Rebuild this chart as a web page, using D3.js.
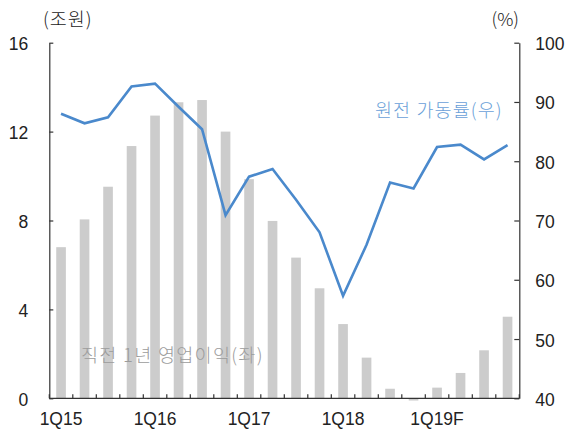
<!DOCTYPE html>
<html>
<head>
<meta charset="utf-8">
<script src="https://cdn.jsdelivr.net/npm/d3@7"></script>
<style>
  html, body { margin: 0; padding: 0; background: #fff; }
  svg { display: block; }
  text { font-family: "Liberation Sans", Arial, "Noto Sans CJK KR", sans-serif; }
  .kr { font-family: "Noto Sans CJK KR", "Liberation Sans", sans-serif; font-weight: 300; }
</style>
</head>
<body>
<svg id="chart" width="569" height="433"></svg>
<script>
const categories = ["1Q15","2Q15","3Q15","4Q15","1Q16","2Q16","3Q16","4Q16","1Q17","2Q17","3Q17","4Q17","1Q18","2Q18","3Q18","4Q18","1Q19F","2Q19F","3Q19F","4Q19F"];
const operatingProfit = [6.8, 8.05, 9.52, 11.35, 12.72, 13.32, 13.42, 12.0, 9.86, 7.98, 6.33, 4.95, 3.34, 1.83, 0.43, -0.1, 0.48, 1.14, 2.16, 3.67];
const utilizationRate = [88.0, 86.4, 87.4, 92.6, 93.1, 89.2, 85.4, 70.9, 77.4, 78.7, 73.5, 68.0, 57.3, 65.9, 76.4, 75.4, 82.4, 82.8, 80.3, 82.7];
const xTickLabels = ["1Q15","1Q16","1Q17","1Q18","1Q19F"];
const leftTicks = [0, 4, 8, 12, 16];
const rightTicks = [40, 50, 60, 70, 80, 90, 100];

const svg = d3.select("#chart");
const mLeft = 49.3, mRight = 519.3, mTop = 42.7, mBottom = 398.3;

const x = d3.scaleBand().domain(categories).range([mLeft, mRight]).paddingInner(0.59).paddingOuter(0.295);
const yL = d3.scaleLinear().domain([0, 16]).range([mBottom, mTop]);
const yR = d3.scaleLinear().domain([40, 100]).range([mBottom, mTop]);
const band = (mRight - mLeft) / categories.length;

// bars
svg.append("g").selectAll("rect").data(categories).join("rect")
  .attr("x", (d) => x(d))
  .attr("width", x.bandwidth())
  .attr("y", (d, i) => Math.min(yL(operatingProfit[i]), yL(0)))
  .attr("height", (d, i) => Math.abs(yL(operatingProfit[i]) - yL(0)))
  .attr("fill", "#cccccc");

// line
const line = d3.line()
  .x((d, i) => x(categories[i]) + x.bandwidth() / 2)
  .y((d) => yR(d));
svg.append("path").datum(utilizationRate)
  .attr("d", line)
  .attr("fill", "none")
  .attr("stroke", "#4a89cc")
  .attr("stroke-width", 2.6)
  .attr("stroke-linejoin", "miter");

const axisColor = "#333";
// left axis
const gL = svg.append("g").attr("transform", `translate(${mLeft},0)`)
  .call(d3.axisLeft(yL).tickValues(leftTicks).tickSizeInner(-4).tickSizeOuter(0).tickPadding(21).tickFormat(d3.format("d")));
// right axis
const gR = svg.append("g").attr("transform", `translate(${mRight},0)`)
  .call(d3.axisRight(yR).tickValues(rightTicks).tickSizeInner(-5).tickSizeOuter(0).tickPadding(21).tickFormat(d3.format("d")));
// bottom axis (ticks at category boundaries)
const boundaries = d3.range(categories.length + 1).map(i => mLeft + i * band);
const gB = svg.append("g");
gB.append("line").attr("x1", mLeft).attr("x2", mRight).attr("y1", yL(0)).attr("y2", yL(0)).attr("stroke", axisColor).attr("stroke-width", 1.2);
gB.selectAll("line.t").data(boundaries).join("line").attr("class", "t")
  .attr("x1", d => d).attr("x2", d => d).attr("y1", yL(0)).attr("y2", yL(0) - 4)
  .attr("stroke", axisColor).attr("stroke-width", 1.2);
gB.selectAll("text").data(xTickLabels).join("text")
  .attr("x", d => x(d) + x.bandwidth() / 2)
  .attr("y", 425)
  .attr("text-anchor", "middle")
  .attr("font-size", 17.5)
  .attr("fill", "#222")
  .text(d => d);

[gL, gR].forEach(g => {
  g.select(".domain").attr("stroke", axisColor).attr("stroke-width", 1.2);
  g.selectAll(".tick line").attr("stroke", axisColor).attr("stroke-width", 1.2);
  g.selectAll(".tick text").attr("font-size", 17.5).attr("fill", "#222")
    .attr("font-family", "'Liberation Sans', Arial, sans-serif").attr("dy", "0.4em");
});
gL.selectAll(".tick text").attr("x", -21);
gR.selectAll(".tick text").attr("x", 16);

// unit labels
svg.append("text").attr("class", "kr").attr("x", 43).attr("y", 26).attr("font-size", 18.5).attr("letter-spacing", 1).attr("fill", "#222").text("(조원)");
svg.append("text").attr("class", "kr").attr("x", 519).attr("y", 26).attr("text-anchor", "end").attr("font-size", 18).attr("fill", "#222").text("(%)");

// annotations
svg.append("text").attr("class", "kr").attr("x", 375).attr("y", 116.5).attr("font-size", 18.5).attr("fill", "#6a9fd8").attr("letter-spacing", 1.1).text("원전 가동률(우)");
svg.append("text").attr("class", "kr").attr("x", 81).attr("y", 361.5).attr("font-size", 18.5).attr("fill", "#9c9c9c").attr("letter-spacing", 1.3).text("직전 1년 영업이익(좌)");
</script>
</body>
</html>
